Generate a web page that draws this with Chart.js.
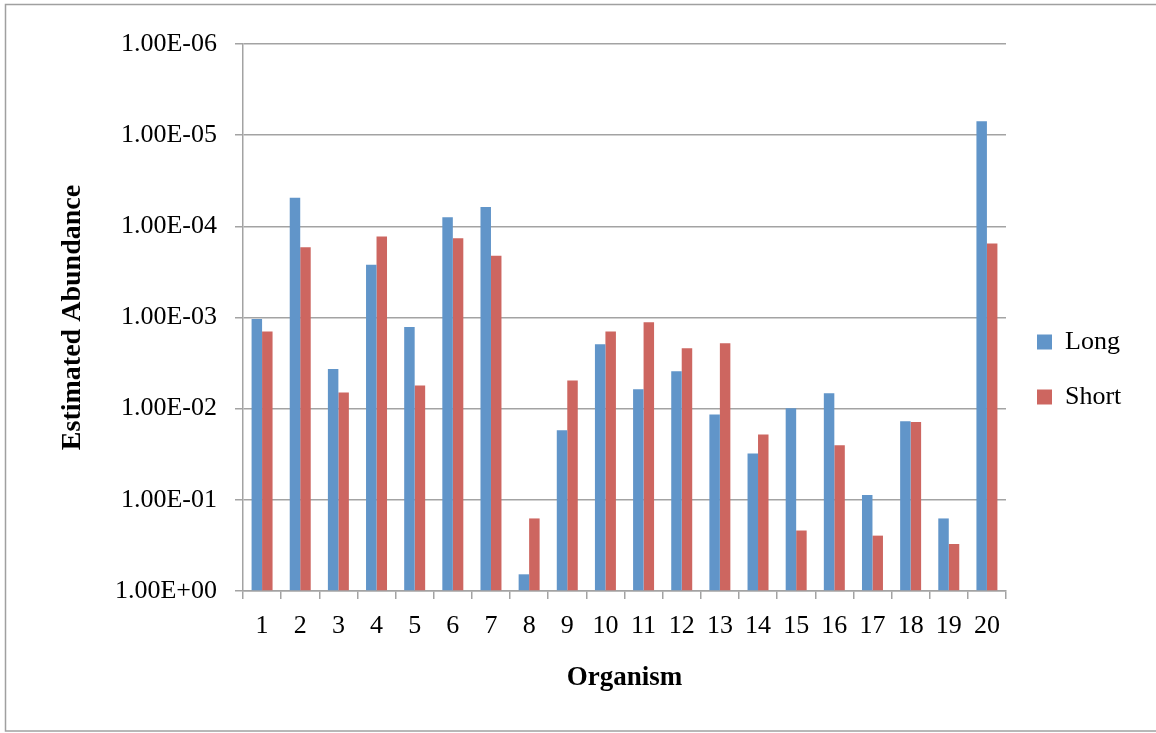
<!DOCTYPE html>
<html>
<head>
<meta charset="utf-8">
<title>Estimated Abundance by Organism</title>
<script src="https://cdn.jsdelivr.net/npm/chart.js@4/dist/chart.umd.min.js"></script>
<style>
  html, body { margin: 0; padding: 0; background: #ffffff; }
  #wrap { width: 1156px; height: 733px; position: relative; }
</style>
</head>
<body>
<div id="wrap"><canvas id="chart" width="1156" height="733"></canvas></div>
<script>
// Organism numbers along the x axis
const organisms = ['1','2','3','4','5','6','7','8','9','10','11','12','13','14','15','16','17','18','19','20'];

// Estimated abundance per organism, long and short runs
const longValues = [
  1.04e-3, 4.85e-5, 3.68e-3, 2.64e-4, 1.27e-3, 7.96e-5, 6.14e-5, 0.656, 1.73e-2, 1.96e-3,
  6.11e-3, 3.88e-3, 1.16e-2, 3.10e-2, 9.88e-3, 6.76e-3, 8.83e-2, 1.37e-2, 0.160, 7.03e-6
];
const shortValues = [
  1.42e-3, 1.70e-4, 6.64e-3, 1.29e-4, 5.56e-3, 1.35e-4, 2.10e-4, 0.160, 4.90e-3, 1.42e-3,
  1.13e-3, 2.17e-3, 1.92e-3, 1.92e-2, 0.217, 2.52e-2, 0.247, 1.40e-2, 0.305, 1.54e-4
];

// Value-axis ticks (one per decade) and their printed labels
const yTickValues = [1, 1e-1, 1e-2, 1e-3, 1e-4, 1e-5, 1e-6];
const yTickLabels = ['1.00E+00', '1.00E-01', '1.00E-02', '1.00E-03', '1.00E-04', '1.00E-05', '1.00E-06'];

const seriesNames = ['Long', 'Short'];

const GRID = '#a3a3a3';
const FONT = '"Liberation Serif", "Times New Roman", serif';

// Outer frame around the whole chart
const framePlugin = {
  id: 'frame',
  beforeDraw(chart) {
    const ctx = chart.ctx;
    ctx.save();
    ctx.fillStyle = '#ffffff';
    ctx.fillRect(0, 0, chart.width, chart.height);
    ctx.strokeStyle = '#a0a0a0';
    ctx.lineWidth = 1.5;
    ctx.strokeRect(5.5, 4.5, chart.width + 10, chart.height - 6.5);
    ctx.restore();
  }
};

// Keep the legend column a fixed width so the plot area keeps its size,
// and centre the legend entries a little above the middle of the chart
const legendPlacePlugin = {
  id: 'legendPlace',
  beforeLayout(chart) {
    const lg = chart.legend;
    if (lg && !lg.__fixedWidth) {
      const fit = lg.fit.bind(lg);
      lg.fit = function () { fit(); this.width = 150; };
      lg.__fixedWidth = true;
    }
  },
  afterLayout(chart) {
    const lg = chart.legend;
    if (lg) {
      lg.bottom = 695;
      lg.left += 2;
    }
  }
};

new Chart(document.getElementById('chart'), {
  type: 'bar',
  data: {
    labels: organisms,
    datasets: [
      { label: seriesNames[0], data: longValues, backgroundColor: '#6195c9', base: 1 },
      { label: seriesNames[1], data: shortValues, backgroundColor: '#cd6660', base: 1 }
    ]
  },
  options: {
    responsive: false,
    animation: false,
    devicePixelRatio: 1,
    layout: { padding: { top: 44, left: 0, right: 0, bottom: 0 } },
    datasets: { bar: { categoryPercentage: 0.55, barPercentage: 1.0, borderWidth: 0 } },
    plugins: {
      tooltip: { enabled: false },
      legend: {
        position: 'right',
        align: 'center',
        labels: {
          color: '#000000',
          font: { family: FONT, size: 26 },
          boxWidth: 15,
          boxHeight: 15,
          padding: 29
        }
      }
    },
    scales: {
      x: {
        type: 'category',
        offset: true,
        grid: {
          offset: true,
          drawOnChartArea: false,
          drawTicks: true,
          tickLength: 8,
          color: GRID,
          lineWidth: 1.5
        },
        border: { display: true, color: GRID, width: 1.5 },
        ticks: {
          color: '#000000',
          font: { family: FONT, size: 26 },
          padding: 12,
          maxRotation: 0,
          autoSkip: false
        },
        title: {
          display: true,
          text: 'Organism',
          color: '#000000',
          font: { family: FONT, size: 27, weight: 'bold' },
          padding: { top: 0, bottom: 39 }
        },
        afterFit(scale) { scale.height = 142; }
      },
      y: {
        type: 'logarithmic',
        reverse: true,
        min: 1e-6,
        max: 1,
        grid: {
          color: GRID,
          lineWidth: 1.5,
          drawTicks: true,
          tickLength: 8
        },
        border: { display: true, color: GRID, width: 1.5 },
        afterBuildTicks(scale) {
          scale.ticks = yTickValues.map(v => ({ value: v }));
        },
        ticks: {
          color: '#000000',
          font: { family: FONT, size: 26 },
          padding: 18,
          callback(value) {
            const i = yTickValues.findIndex(t => Math.abs(Math.log10(t) - Math.log10(value)) < 1e-6);
            return i >= 0 ? yTickLabels[i] : '';
          }
        },
        title: {
          display: true,
          text: 'Estimated Abundance',
          color: '#000000',
          font: { family: FONT, size: 28, weight: 'bold' },
          padding: { top: 56, bottom: 0 }
        },
        afterFit(scale) { scale.width = 243; }
      }
    }
  },
  plugins: [framePlugin, legendPlacePlugin]
});
</script>
</body>
</html>
